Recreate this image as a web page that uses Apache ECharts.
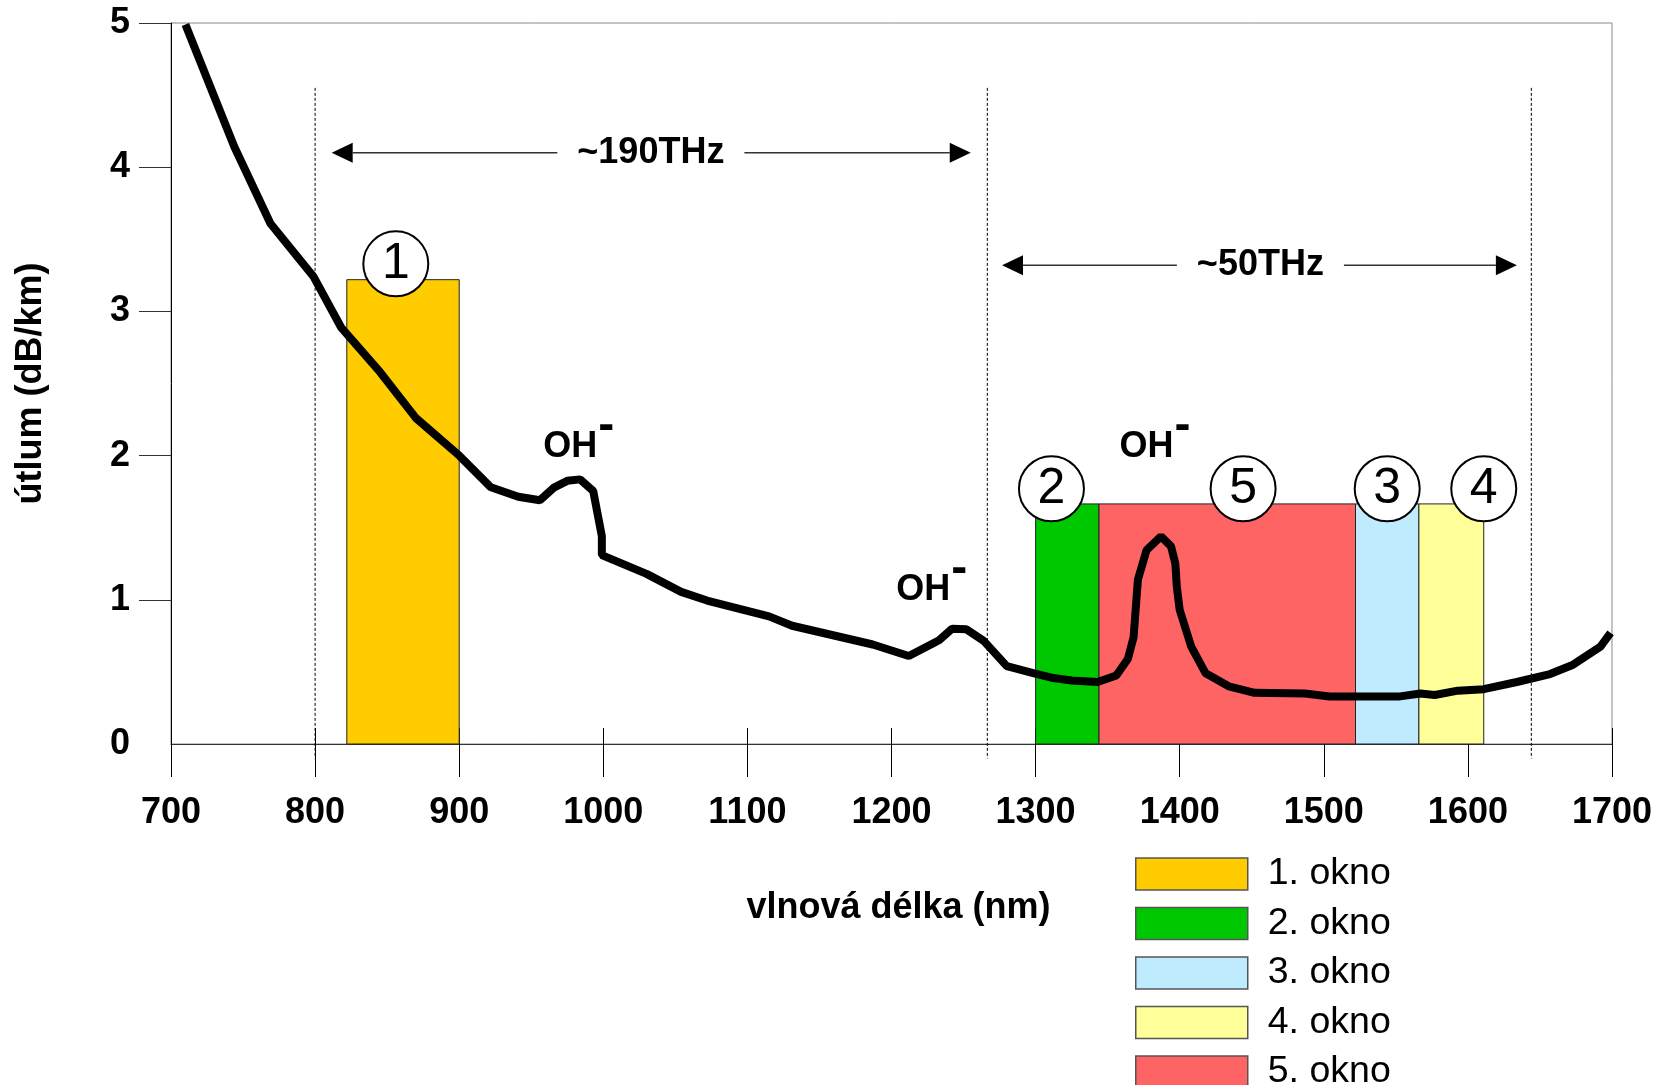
<!DOCTYPE html>
<html><head><meta charset="utf-8">
<script src="https://cdn.jsdelivr.net/npm/echarts@6/dist/echarts.min.js"></script>
<style>html,body{margin:0;padding:0;background:#fff}#c{width:1655px;height:1085px}</style>
</head><body><div id="c"></div>
<script>
// ---- data ----
const wavelength = [710, 744, 769, 799, 818, 845, 870, 900, 922, 941, 956, 966, 975, 984, 993, 999, 999,
  1030, 1054, 1072, 1115, 1131, 1187, 1212, 1233, 1242, 1252, 1264, 1280, 1299, 1311, 1325, 1343,
  1356, 1364, 1368, 1371, 1377, 1387, 1394, 1397, 1398, 1400, 1408, 1418, 1434, 1452, 1487, 1504,
  1553, 1567, 1577, 1593, 1611, 1634, 1657, 1673, 1692, 1699];
const attenuation = [4.99, 4.14, 3.61, 3.24, 2.89, 2.58, 2.26, 2.00, 1.78, 1.715, 1.69, 1.78, 1.825, 1.835, 1.755, 1.44, 1.31,
  1.18, 1.055, 0.995, 0.885, 0.82, 0.69, 0.61, 0.72, 0.80, 0.795, 0.715, 0.54, 0.49, 0.46, 0.44, 0.43,
  0.475, 0.59, 0.74, 1.14, 1.345, 1.44, 1.37, 1.25, 1.09, 0.93, 0.675, 0.49, 0.40, 0.355, 0.35, 0.33,
  0.33, 0.35, 0.34, 0.37, 0.38, 0.43, 0.485, 0.55, 0.675, 0.77];

const windowNames = ['1. okno', '2. okno', '3. okno', '4. okno', '5. okno'];
const windowStart = [822, 1300, 1522, 1566, 1344];
const windowEnd   = [900, 1344, 1566, 1611, 1522];
const windowTop   = [3.22, 1.665, 1.665, 1.665, 1.665];
const windowColors = ['#FFCC00', '#00C800', '#BFEBFF', '#FFFF99', '#FF6464'];

const circleX = [856, 1311, 1444, 1544, 1611];
const circleY = [3.33, 1.77, 1.77, 1.77, 1.77];
const circleText = ['1', '2', '5', '3', '4'];

const ohX = [977, 1222, 1377];
const ohY = [2.06, 1.07, 2.06];

const dashX = [800, 1266.5, 1644];
const dashTop = 4.55, dashBottom = -0.1;

const arrowFrom = [811.5, 1276.7];
const arrowTo = [1255, 1634];
const arrowY = [4.10, 3.32];
const arrowText = ['~190THz', '~50THz'];
const arrowTextX = [1033, 1456];

const xMin = 700, xMax = 1700, xStep = 100;
const yMin = 0, yMax = 5, yStep = 1;
const yTickValues = [1, 2, 3, 4, 5];

// ---- chart ----
const FF = "'Liberation Sans', Arial, sans-serif";
const chart = echarts.init(document.getElementById('c'), null, {renderer: 'canvas'});

function windowSeries(i) {
  return {
    type: 'custom', name: windowNames[i], z: 1,
    itemStyle: {color: windowColors[i]},
    encode: {x: [0, 1], y: 2},
    data: [[windowStart[i], windowEnd[i], windowTop[i]]],
    renderItem: function (params, api) {
      const p0 = api.coord([api.value(0), 0]);
      const p1 = api.coord([api.value(1), api.value(2)]);
      return {type: 'rect', shape: {x: p0[0], y: p1[1], width: p1[0] - p0[0], height: p0[1] - p1[1]},
        style: {fill: windowColors[i], stroke: '#222', lineWidth: 1}};
    }
  };
}

const series = [];
for (let i = 0; i < windowNames.length; i++) series.push(windowSeries(i));

series.push({
  type: 'custom', name: 'dash', z: 2, clip: false, silent: true,
  data: dashX.map(x => [x, dashTop, dashBottom]),
  renderItem: function (params, api) {
    const a = api.coord([api.value(0), api.value(1)]);
    const b = api.coord([api.value(0), api.value(2)]);
    return {type: 'line', shape: {x1: a[0], y1: a[1], x2: b[0], y2: b[1]},
      style: {stroke: '#000', lineWidth: 1, lineDash: [3, 2]}};
  }
});

series.push({
  type: 'custom', name: 'arrows', z: 3, clip: false, silent: true,
  data: arrowFrom.map((f, i) => [f, arrowTo[i], arrowY[i], arrowTextX[i], i]),
  renderItem: function (params, api) {
    const a = api.coord([api.value(0), api.value(2)]);
    const b = api.coord([api.value(1), api.value(2)]);
    const t = api.coord([api.value(3), api.value(2)]);
    const idx = api.value(4);
    const L = 21, H = 10;
    return {type: 'group', children: [
      {type: 'line', shape: {x1: a[0] + L, y1: a[1], x2: b[0] - L, y2: b[1]}, style: {stroke: '#333', lineWidth: 1.5}},
      {type: 'polygon', shape: {points: [[a[0], a[1]], [a[0] + L, a[1] - H], [a[0] + L, a[1] + H]]}, style: {fill: '#000'}},
      {type: 'polygon', shape: {points: [[b[0], b[1]], [b[0] - L, b[1] - H], [b[0] - L, b[1] + H]]}, style: {fill: '#000'}},
      {type: 'text', x: t[0], y: t[1], style: {text: arrowText[idx], fill: '#000', font: 'bold 36px ' + FF,
        align: 'center', verticalAlign: 'middle', backgroundColor: '#fff', padding: [2, 20]}}
    ]};
  }
});

series.push({
  type: 'line', name: 'curve', z: 5, showSymbol: false, silent: true,
  data: wavelength.map((x, i) => [x, attenuation[i]]),
  lineStyle: {color: '#000', width: 8}
});

series.push({
  type: 'scatter', name: 'circles', z: 6, silent: true,
  symbol: 'circle', symbolSize: 65,
  itemStyle: {color: '#fff', borderColor: '#000', borderWidth: 2, opacity: 1},
  data: circleX.map((x, i) => ({value: [x, circleY[i]], name: circleText[i]})),
  label: {show: true, position: 'inside', formatter: '{b}', fontSize: 50, color: '#000', fontFamily: FF, fontWeight: 'normal'}
});

series.push({
  type: 'scatter', name: 'oh', z: 6, silent: true, symbolSize: 0,
  itemStyle: {opacity: 1},
  data: ohX.map((x, i) => [x, ohY[i]]),
  label: {show: true, position: 'inside', formatter: 'OH', fontSize: 36, fontWeight: 'bold', color: '#000', fontFamily: FF}
});
series.push({
  type: 'scatter', name: 'ohsup', z: 6, silent: true, symbolSize: 0,
  itemStyle: {opacity: 1},
  data: ohX.map((x, i) => [x, ohY[i]]),
  label: {show: true, position: 'inside', formatter: '-', offset: [36, -20], fontSize: 48, fontWeight: 'bold', color: '#000', fontFamily: FF}
});

chart.setOption({
  animation: false,
  backgroundColor: '#fff',
  textStyle: {fontFamily: FF},
  grid: {left: 171, top: 23, width: 1441, height: 721, show: true, borderColor: '#888', borderWidth: 1,
    containLabel: false, outerBoundsMode: 'none'},
  legend: {
    data: windowNames, orient: 'vertical', left: 1135, top: 855, height: 260, padding: 0,
    itemWidth: 112, itemHeight: 32, itemGap: 11.5, icon: 'rect',
    itemStyle: {borderColor: '#555', borderWidth: 1.5},
    textStyle: {fontSize: 37.5, color: '#000', fontFamily: FF, padding: [0, 0, 0, 15]},
    selectedMode: false
  },
  xAxis: [{
    type: 'value', min: xMin, max: xMax, interval: xStep, position: 'bottom',
    axisLine: {show: true, onZero: false, lineStyle: {color: '#333', width: 1}},
    axisTick: {show: true, length: 33, lineStyle: {color: '#000', width: 1}},
    axisLabel: {margin: 51, fontSize: 36, fontWeight: 'bold', color: '#000', fontFamily: FF,
      formatter: v => String(v)},
    splitLine: {show: false},
    name: 'vlnová délka (nm)', nameLocation: 'middle', nameGap: 146,
    nameTextStyle: {fontSize: 36, fontWeight: 'bold', color: '#000', fontFamily: FF, padding: [0, 0, 0, 14]}
  }, {
    type: 'value', min: xMin, max: xMax, interval: xStep, position: 'bottom',
    axisLine: {show: false}, axisLabel: {show: false}, splitLine: {show: false},
    axisTick: {show: true, inside: true, length: 16, lineStyle: {color: '#000', width: 1}}
  }],
  yAxis: {
    type: 'value', min: yMin, max: yMax, interval: yStep,
    axisLine: {show: true, onZero: false, lineStyle: {color: '#000', width: 1}},
    axisTick: {show: true, length: 32, customValues: yTickValues, lineStyle: {color: '#333', width: 1}},
    axisLabel: {margin: 41, fontSize: 36, fontWeight: 'bold', color: '#000', fontFamily: FF},
    splitLine: {show: false},
    name: 'útlum (dB/km)', nameLocation: 'middle', nameGap: 122, nameRotate: 90,
    nameTextStyle: {fontSize: 36, fontWeight: 'bold', color: '#000', fontFamily: FF}
  },
  series: series
});
</script>
</body></html>
